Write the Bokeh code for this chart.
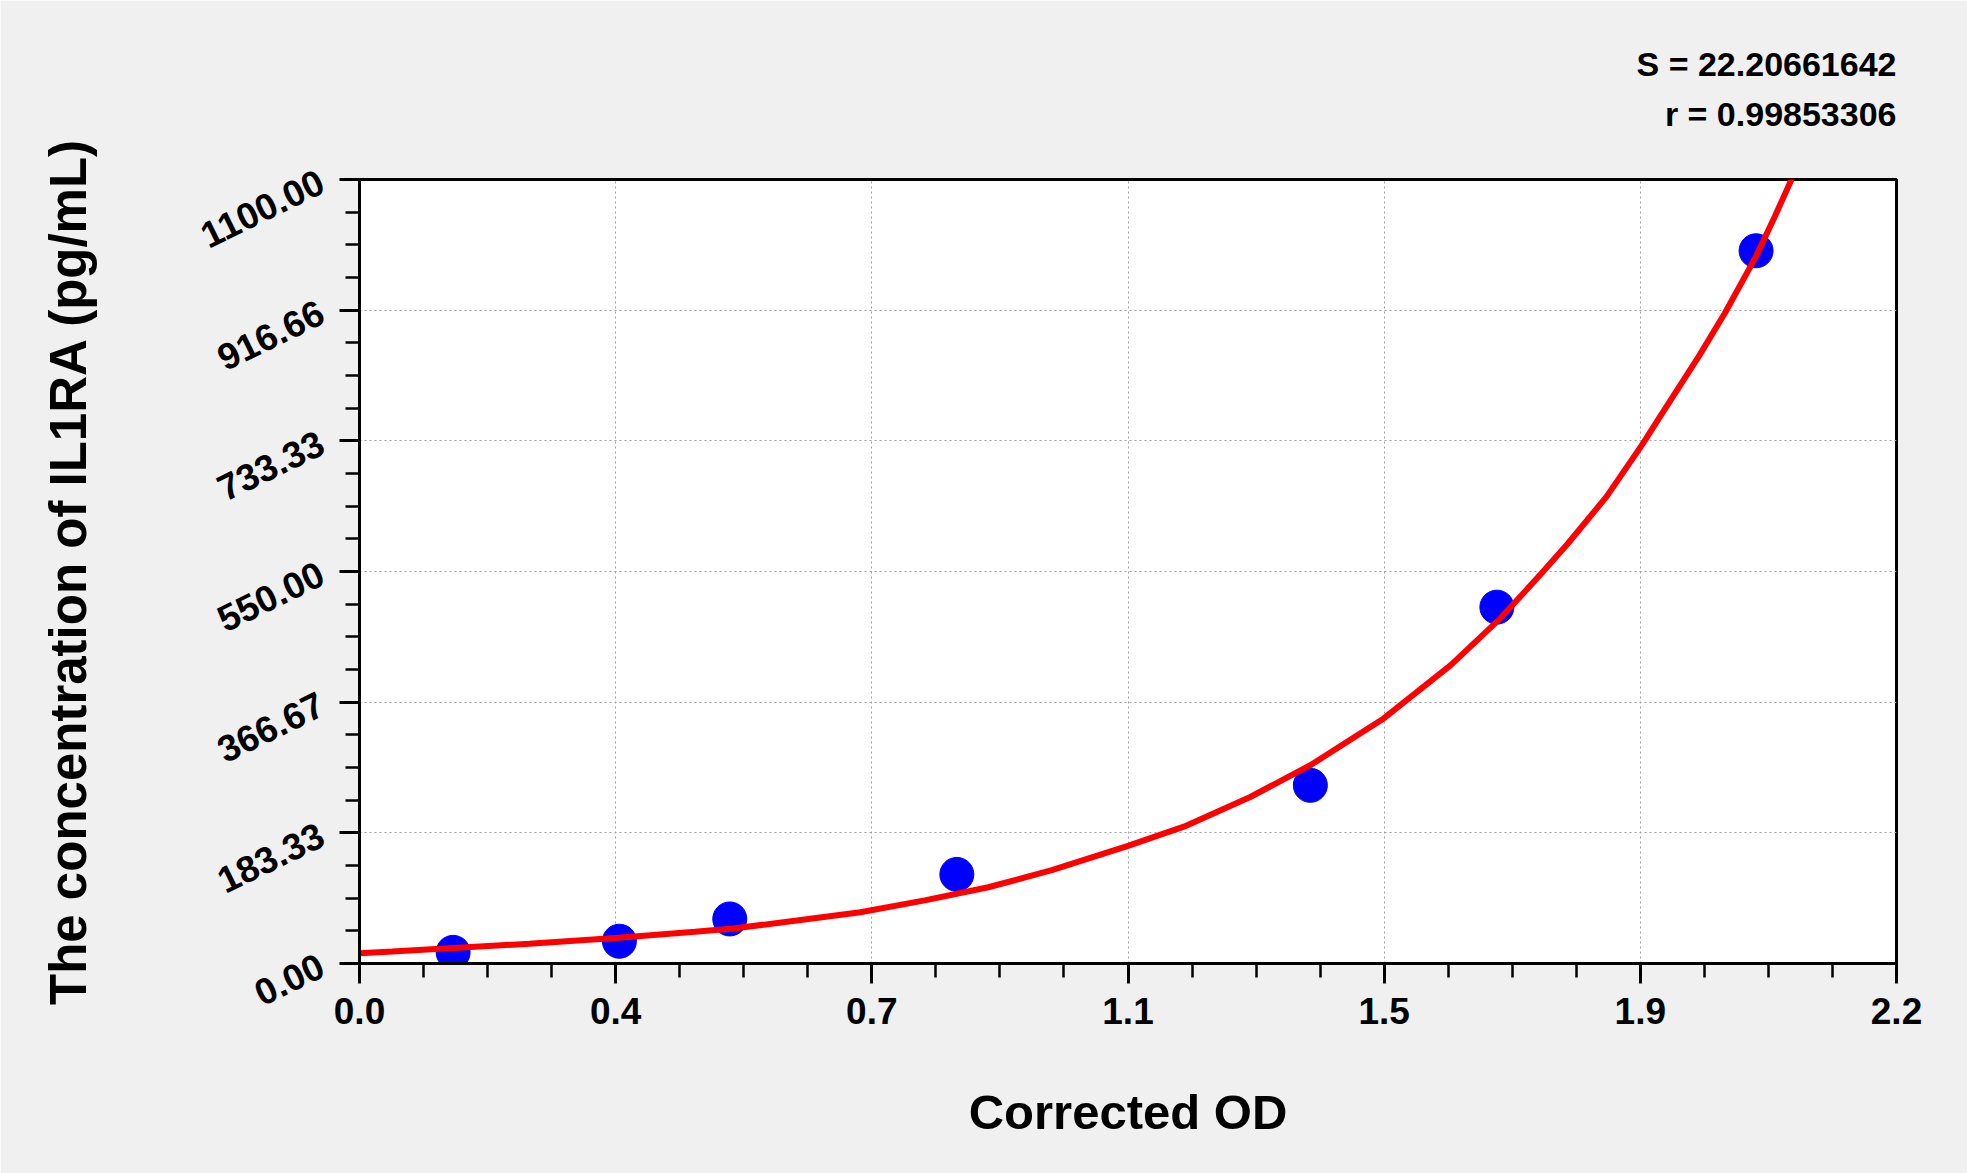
import math
from bokeh.plotting import figure
from bokeh.models import FixedTicker, Range1d, Title
from bokeh.embed import file_html
from bokeh.resources import INLINE

# standard points (corrected OD vs concentration)
od = [0.134, 0.372, 0.530, 0.855, 1.361, 1.628, 1.999]
conc = [15.63, 31.25, 62.5, 125, 250, 500, 1000]

# fitted curve
curve_x = [0.0, 0.047, 0.243, 0.371, 0.480, 0.535, 0.626, 0.717, 0.809, 0.900,
           0.991, 1.100, 1.180, 1.275, 1.361, 1.466, 1.562, 1.633, 1.692, 1.730,
           1.785, 1.836, 1.862, 1.917, 1.954, 1.999, 2.026, 2.054]
curve_y = [14.5, 17.0, 27.7, 36.1, 44.5, 49.0, 60.4, 72.0, 88.5, 107.0,
           130.9, 165.0, 192.0, 233.6, 278.2, 343.8, 418.7, 484.3, 547.5, 589.6,
           655.1, 728.0, 768.0, 851.8, 912.0, 992.2, 1048.4, 1109.4]

x_labels = ["0.0", "0.4", "0.7", "1.1", "1.5", "1.9", "2.2"]
y_labels = ["0.00", "183.33", "366.67", "550.00", "733.33", "916.66", "1100.00"]

stats = ["S = 22.20661642", "r = 0.99853306"]

FONT = "Liberation Sans"

x_ticks = [i * 2.2 / 6 for i in range(7)]
y_ticks = [i * 1100.0 / 6 for i in range(7)]
x_minor = [i * 2.2 / 24 for i in range(25)]
y_minor = [i * 1100.0 / 24 for i in range(25)]

p = figure(width=1967, height=1173, x_range=Range1d(0, 2.2), y_range=Range1d(0, 1100),
           output_backend="svg", toolbar_location=None,
           min_border_left=359, min_border_right=71, min_border_top=179, min_border_bottom=210)

p.background_fill_color = "white"
p.border_fill_color = "#f0f0f0"
p.outline_line_color = "black"
p.outline_line_width = 3

# axes
for ax in (p.xaxis[0], p.yaxis[0]):
    ax.axis_line_width = 3
    ax.axis_line_color = "black"
    ax.major_tick_in = 0
    ax.major_tick_out = 20
    ax.minor_tick_in = 0
    ax.minor_tick_out = 14
    ax.major_tick_line_width = 3
    ax.minor_tick_line_width = 2.5
    ax.major_label_text_font = FONT
    ax.major_label_text_font_style = "bold"
    ax.major_label_text_font_size = "37px"
    ax.major_label_text_color = "black"
    ax.axis_label_text_font = FONT
    ax.axis_label_text_font_style = "bold"
    ax.axis_label_text_color = "black"

p.xaxis.ticker = FixedTicker(ticks=x_ticks, minor_ticks=x_minor)
p.yaxis.ticker = FixedTicker(ticks=y_ticks, minor_ticks=y_minor)
p.xaxis.major_label_overrides = {t: s for t, s in zip(x_ticks, x_labels)}
p.yaxis.major_label_overrides = {t: s for t, s in zip(y_ticks, y_labels)}
p.xaxis.major_label_standoff = 14
p.yaxis.major_label_standoff = 18
p.yaxis.major_label_orientation = math.radians(26)

p.xaxis.axis_label = "Corrected OD"
p.yaxis.axis_label = "The concentration of IL1RA (pg/mL)"
p.xaxis.axis_label_text_font_size = "49px"
p.yaxis.axis_label_text_font_size = "51px"
p.xaxis.axis_label_standoff = 58
p.yaxis.axis_label_standoff = 92

for g in (p.xgrid[0], p.ygrid[0]):
    g.grid_line_color = "#a0a0a0"
    g.grid_line_dash = "2 3"
    g.grid_line_width = 1

# data
p.scatter(od, conc, size=34, marker="circle", fill_color="#0000ff", line_color="#0000ff")
p.line(curve_x, curve_y, line_color="#ff0000", line_width=6)

# stats text above the plot, right aligned with the frame (r nearest the frame)
p.add_layout(Title(text=stats[1], align="right", text_font=FONT, text_font_style="bold",
                   text_font_size="34px", text_color="black", standoff=93), "above")
p.add_layout(Title(text=stats[0], align="right", text_font=FONT, text_font_style="bold",
                   text_font_size="34px", text_color="black", standoff=-73), "above")

open("out.html", "w").write(file_html(p, INLINE))
